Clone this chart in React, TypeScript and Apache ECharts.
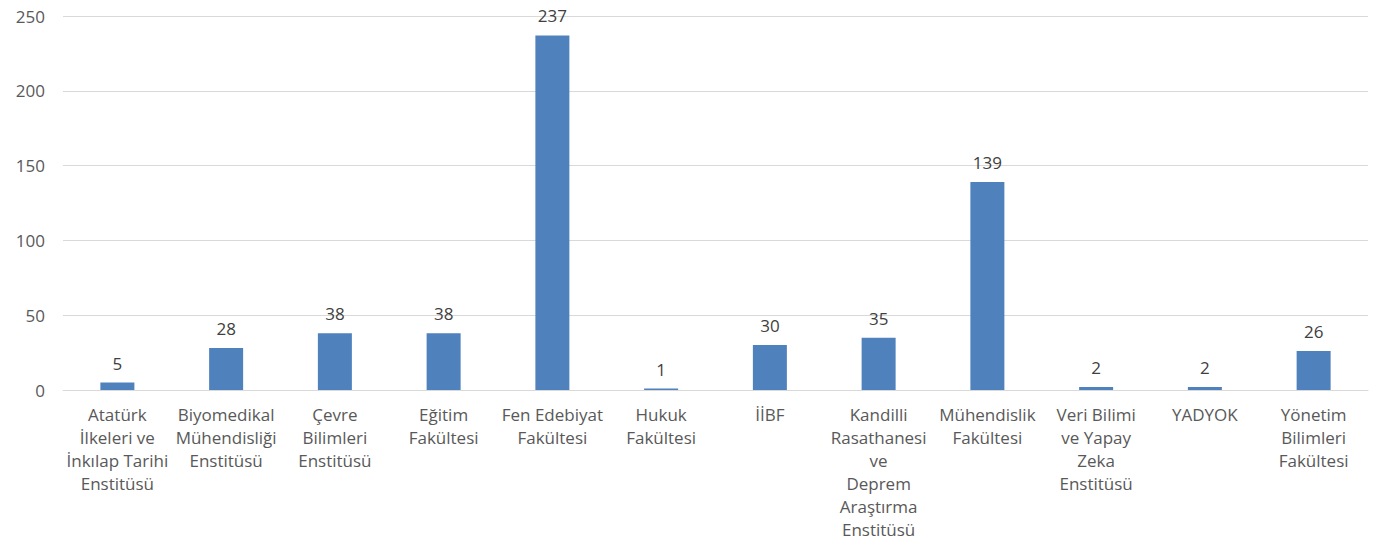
import React, { useEffect, useRef } from "react";
import * as echarts from "echarts";

const categories = [
  "Atatürk\nİlkeleri ve\nİnkılap Tarihi\nEnstitüsü",
  "Biyomedikal\nMühendisliği\nEnstitüsü",
  "Çevre\nBilimleri\nEnstitüsü",
  "Eğitim\nFakültesi",
  "Fen Edebiyat\nFakültesi",
  "Hukuk\nFakültesi",
  "İİBF",
  "Kandilli\nRasathanesi\nve\nDeprem\nAraştırma\nEnstitüsü",
  "Mühendislik\nFakültesi",
  "Veri Bilimi\nve Yapay\nZeka\nEnstitüsü",
  "YADYOK",
  "Yönetim\nBilimleri\nFakültesi",
];
const values = [5, 28, 38, 38, 237, 1, 30, 35, 139, 2, 2, 26];
const yTicks = { min: 0, max: 250, interval: 50 };

const FONT = "'Open Sans', 'Noto Sans', sans-serif";

export default function App() {
  const ref = useRef<HTMLDivElement>(null);
  useEffect(() => {
    if (!ref.current) return;
    const chart = echarts.init(ref.current, undefined, { renderer: "svg" });
    chart.setOption({
      animation: false,
      grid: { left: 63, right: 10, top: 16, bottom: 160, containLabel: false },
      xAxis: {
        type: "category",
        data: categories,
        axisLine: { show: true, lineStyle: { color: "#d9d9d9", width: 1 } },
        axisTick: { show: false },
        axisLabel: {
          interval: 0,
          color: "#595959",
          fontSize: 17,
          fontFamily: FONT,
          lineHeight: 23,
          margin: 13,
          align: "center",
        },
      },
      yAxis: {
        type: "value",
        min: yTicks.min,
        max: yTicks.max,
        interval: yTicks.interval,
        axisLine: { show: false },
        axisTick: { show: false },
        splitLine: { lineStyle: { color: "#d9d9d9", width: 1 } },
        axisLabel: { color: "#595959", fontSize: 17, fontFamily: FONT, margin: 18 },
      },
      series: [
        {
          type: "bar",
          data: values,
          barWidth: 34,
          itemStyle: { color: "#4f81bd" },
          label: {
            show: true,
            position: "top",
            color: "#404040",
            fontSize: 17,
            fontFamily: FONT,
            distance: 11,
          },
        },
      ],
    });
    return () => chart.dispose();
  }, []);
  return (
    <div
      ref={ref}
      style={{ position: "fixed", left: 0, top: 0, width: 1378, height: 550, background: "#fff" }}
    />
  );
}
